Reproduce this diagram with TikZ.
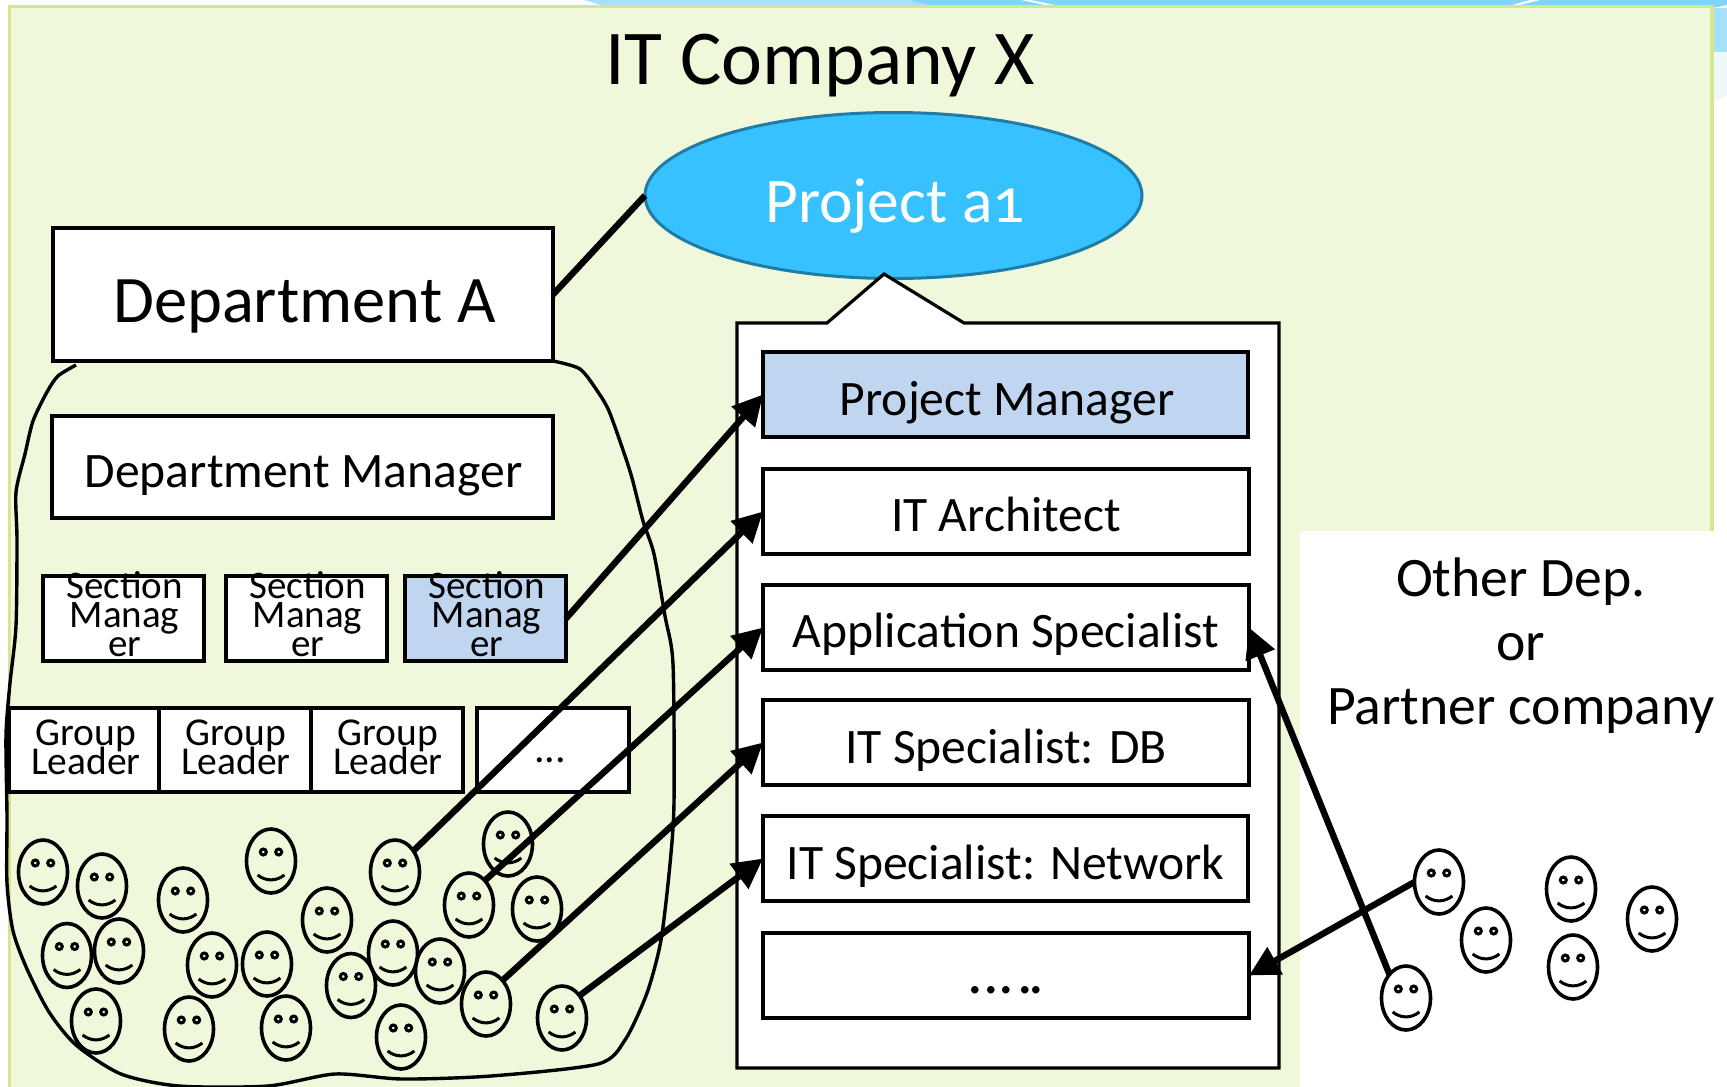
\documentclass[tikz,border=0pt]{standalone}
\usepackage{fontspec}
\setmainfont[Numbers=OldStyle]{Carlito}
\usetikzlibrary{shapes.geometric,arrows.meta}
\definecolor{panelgreen}{HTML}{EFF8DA}
\definecolor{paneledge}{HTML}{D5E78D}
\definecolor{skyband}{HTML}{80D4FF}
\definecolor{skylight}{HTML}{A6E0FF}
\definecolor{skypale}{HTML}{F0F8FE}
\definecolor{ellfill}{HTML}{38C1FF}
\definecolor{elledge}{HTML}{1F7CA6}
\definecolor{pmblue}{HTML}{C0D6F0}
\newcommand{\bt}[3]{\raisebox{#1pt}[0pt][0pt]{\fontsize{#2}{#2}\selectfont #3}}
\newcommand{\stk}[4]{\raisebox{#1pt}[0pt][0pt]{\fontsize{#2}{#3}\selectfont\begin{tabular}[b]{@{}c@{}}#4\end{tabular}}}
\tikzset{
  boxn/.style={draw=black,line width=3.3pt,fill=white,inner sep=0pt,outer sep=0pt,rectangle},
  facen/.style={ellipse,draw=black,line width=3.6pt,inner sep=0pt,outer sep=0pt,minimum width=49pt,minimum height=64pt,
    path picture={\begin{scope}[shift={(path picture bounding box.center)}]
      \draw[line width=3pt] (-7.7,-9) circle (3pt);
      \draw[line width=3pt] (7.7,-9) circle (3pt);
      \draw[line width=3pt] (-13.4,14) .. controls (-5,20.5) and (5,20.5) .. (13.4,14);
    \end{scope}}},
  link/.style={line width=6.4pt,draw=black},
  arrowlink/.style={link,-{Triangle[length=30pt,width=30pt]},shorten >=0pt},
}
\newcommand{\rbox}[6]{\node[boxn,#6,minimum width=#3pt-#1pt,minimum height=#4pt-#2pt] (#5) at ({(#1+#3)/2},{(#2+#4)/2})}
\begin{document}
\begin{tikzpicture}[x=1pt,y=-1pt]
\useasboundingbox (0,0) rectangle (1727,1087);
% background
\fill[white] (0,0) rectangle (1727,1087);
\fill[skylight] (584,0) -- (610,8) -- (1727,8) -- (1727,52) -- (1700,52) -- (1700,0) -- cycle;
\fill[skyband] (910,0) -- (1727,0) -- (1727,5) -- (1712,8) -- (938,8) -- cycle;
\fill[skypale] (1712,52) -- (1727,52) -- (1727,96) -- (1712,102) -- cycle;
\fill[white] (1021,0) -- (1030,0) -- (1060,6) -- (1050,6) -- cycle;
\fill[white] (1508,6) -- (1530,0) -- (1540,0) -- (1516,6) -- cycle;
% company panel
\draw[fill=panelgreen,draw=paneledge,line width=3.4pt] (9.5,6.7) rectangle (1712,1100);
\fill[white] (1300,531) rectangle (1727,1087);
\node[inner sep=0pt] (title) at (820,84) {\bt{0}{77.6}{IT Company X}};
% department blob
\draw[line width=3.4pt,line join=round] plot[smooth,tension=0.45] coordinates {
 (76,365) (58,376) (47,392) (33,421) (25,454) (16,492) (17,540) (16,626) (10,683) (6,735) (7,816) (7,883)
 (13,931) (27,969) (49,1012) (76,1045) (121,1074) (179,1086) (268,1086) (335,1074) (402,1079) (491,1076)
 (598,1064) (625,1040) (647,993) (661,940) (670,864) (674,802) (673,664) (665,616) (654,554) (643,521)
 (632,478) (623,450) (609,411) (598,392) (580,369) (553,361)};
% department boxes
\rbox{53}{228}{553}{361}{depta}{}{\kern3pt\bt{-28}{66.5}{Department A}};
\rbox{52}{416}{553}{518}{deptm}{}{\kern2pt\bt{-20}{49.6}{Department Manager}};
\rbox{43}{576}{204}{661}{sm1}{}{\kern2pt\stk{-38}{39}{29}{\smash{Section}\\\smash{Manag}\\\smash{er}}};
\rbox{226}{576}{387}{661}{sm2}{}{\kern2pt\stk{-38}{39}{29}{\smash{Section}\\\smash{Manag}\\\smash{er}}};
\rbox{405}{576}{566}{661}{sm3}{fill=pmblue}{\kern2pt\stk{-38}{39}{29}{\smash{Section}\\\smash{Manag}\\\smash{er}}};
\rbox{9}{708}{159}{792}{gl1}{}{\kern4pt\stk{-24}{39.5}{29}{\smash{Group}\\\smash{Leader}}};
\rbox{159}{708}{311}{792}{gl2}{}{\kern2pt\stk{-24}{39.5}{29}{\smash{Group}\\\smash{Leader}}};
\rbox{311}{708}{463}{792}{gl3}{}{\kern2pt\stk{-24}{39.5}{29}{\smash{Group}\\\smash{Leader}}};
\rbox{477}{708}{629}{792}{gl4}{}{\kern-6pt\bt{-12}{42}{...}};
% project
\node[ellipse,draw=elledge,fill=ellfill,line width=3pt,inner sep=0pt,outer sep=0pt,minimum width=497pt,minimum height=166pt] (proj) at (893.5,195.5) {};
\node[inner sep=0pt,text=white] (projt) at (895,222) {\bt{0}{63.5}{Project a1}};
\draw[link] (depta.east) -- (proj.west);
\draw[fill=white,draw=black,line width=3.2pt,line join=miter] (737,323) -- (827,323) -- (884,274) -- (964,323) -- (1279,323) -- (1279,1068) -- (737,1068) -- cycle;
\rbox{763}{352}{1248}{437}{pm}{fill=pmblue}{\kern3pt\bt{-21}{49.6}{Project Manager}};
\rbox{763}{469}{1249}{554}{arch}{}{\bt{-20}{49.6}{IT Architect}};
\rbox{763}{585}{1249}{670}{app}{}{\bt{-20}{49.6}{Application Specialist}};
\rbox{763}{700}{1249}{785}{db}{}{\bt{-21}{49.6}{IT Specialist: DB}};
\rbox{763}{816}{1248}{901}{net}{}{\bt{-21}{49.6}{IT Specialist: Network}};
\rbox{763}{933}{1249}{1018}{more}{}{\bt{-18}{62}{.\kern0pt.\kern0pt.\kern3pt.\kern-4pt.}};
% faces in the department
\foreach \n/\x/\y in {f1/43/872,f2/102/886,f3/183/900,f4/271/861,f5/327/920,f6/395/872,f7/508/844,f8/469/905,f9/537/909,f10/67/955.5,f11/119/951,f12/212/965,f13/267/964,f14/351/985.5,f15/393/953,f16/440/971,f17/486/1004,f18/562/1018,f19/96/1021,f20/189/1029,f21/286/1028,f22/401/1037}
  \node[facen] (\n) at (\x,\y) {};
% faces outside
\foreach \n/\x/\y in {g1/1439/882,g2/1486/940,g3/1571/889,g4/1652/919,g5/1573/967,g6/1406/998}
  \node[facen] (\n) at (\x,\y) {};
% other dep text
\node[inner sep=0pt] (other) at (1521,724) {\stk{0}{55.7}{64}{\smash{Other Dep.}\\\smash{or}\\\smash{Partner company}}};
% arrows
\draw[arrowlink] (sm3.east) -- (pm.west);
\draw[arrowlink] (f6.49) -- (arch.west);
\draw[arrowlink] (f8.57) -- (app.west);
\draw[arrowlink] (f17.55) -- (db.west);
\draw[arrowlink] (f18.52) -- (net.west);
\draw[arrowlink] (g6.125) -- (app.east);
\draw[arrowlink] (g1.west) -- (more.east);
\end{tikzpicture}
\end{document}
